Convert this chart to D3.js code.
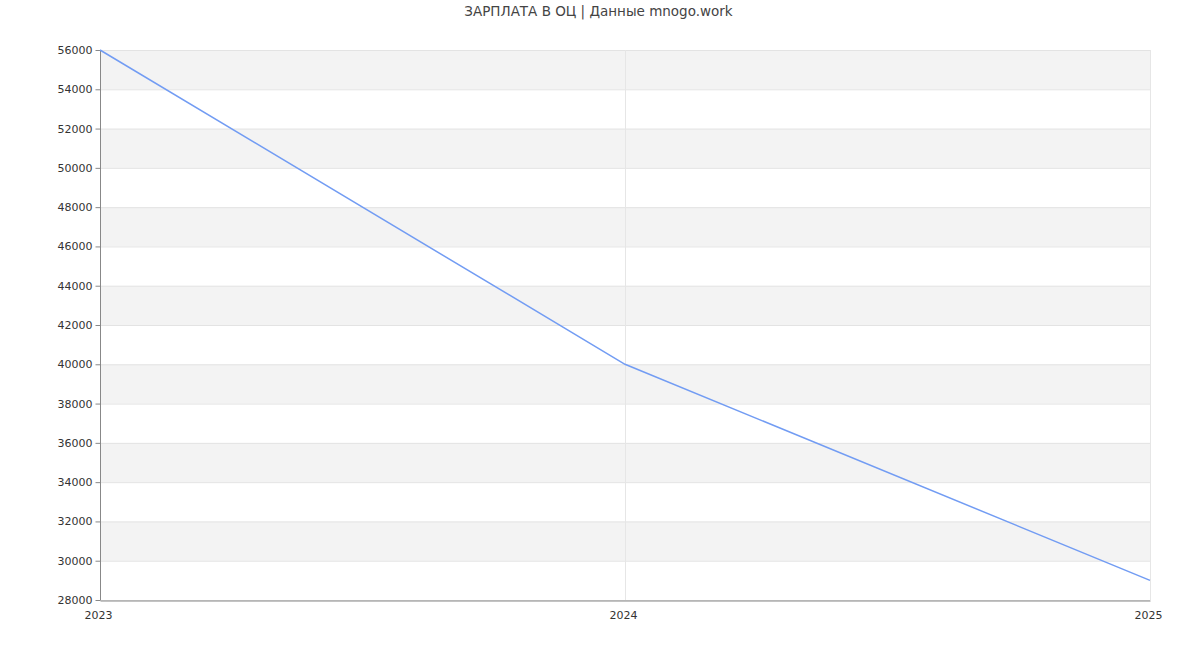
<!DOCTYPE html>
<html><head><meta charset="utf-8">
<script src="https://cdn.jsdelivr.net/npm/d3@7"></script>
<style>body{margin:0;background:#fff;font-family:"DejaVu Sans",sans-serif;}</style>
</head><body>
<svg id="c" width="1200" height="650"></svg>
<script>
const title = "ЗАРПЛАТА В ОЦ | Данные mnogo.work";
const years = ["2023", "2024", "2025"];
const salaries = [56000, 40000, 29000];
const yTicks = [28000,30000,32000,34000,36000,38000,40000,42000,44000,46000,48000,50000,52000,54000,56000];

const svg = d3.select("#c");
const L = 100, R = 1150, T = 50, B = 600;
const x = d3.scalePoint().domain(years).range([L, R]);
const y = d3.scaleLinear().domain([28000, 56000]).range([B, T]);

// bands
const bands = [];
for (let i = 0; i < yTicks.length - 1; i++) bands.push([yTicks[i], yTicks[i+1]]);
svg.append("g").selectAll("rect").data(bands).join("rect")
  .attr("x", L).attr("width", R - L)
  .attr("y", d => y(d[1])).attr("height", d => y(d[0]) - y(d[1]))
  .attr("fill", (d, i) => i % 2 === 1 ? "#f3f3f3" : "#ffffff");

// horizontal grid
svg.append("g").selectAll("line").data(yTicks).join("line")
  .attr("x1", L).attr("x2", R).attr("y1", d => y(d) + 0.5).attr("y2", d => y(d) + 0.5)
  .attr("stroke", "#e3e3e3");
// vertical grid
svg.append("g").selectAll("line").data(years).join("line")
  .attr("y1", T).attr("y2", B).attr("x1", d => x(d) + 0.5).attr("x2", d => x(d) + 0.5)
  .attr("stroke", "#e6e6e6");

// y axis
const ya = svg.append("g").attr("transform", `translate(${L + 0.5},0)`)
  .call(d3.axisLeft(y).tickValues(yTicks).tickSize(5).tickPadding(3).tickFormat(d3.format("d")));
ya.select(".domain").attr("stroke", "#888").attr("d", `M-0,${T}V${B}`);
ya.selectAll(".tick line").attr("stroke", "#888");
ya.selectAll("text").attr("fill", "#333").style("font-size", "11px").style("font-family", "DejaVu Sans, sans-serif");

// x axis
const xa = svg.append("g").attr("transform", `translate(0,${B + 0.5})`)
  .call(d3.axisBottom(x).tickSize(0).tickPadding(11));
xa.select(".domain").attr("stroke", "#888");
xa.selectAll("text").attr("dx", -2).attr("fill", "#333").style("font-size", "11px").style("font-family", "DejaVu Sans, sans-serif");

// line
svg.append("path").datum(salaries.map((v, i) => [years[i], v]))
  .attr("fill", "none").attr("stroke", "#729cf3").attr("stroke-width", 1.5)
  .attr("d", d3.line().x(d => x(d[0])).y(d => y(d[1])));

svg.append("text").attr("x", 598.5).attr("y", 16).attr("text-anchor", "middle")
  .attr("fill", "#444").style("font-size", "13.5px").style("font-family", "DejaVu Sans, sans-serif")
  .text(title);
</script>
</body></html>
